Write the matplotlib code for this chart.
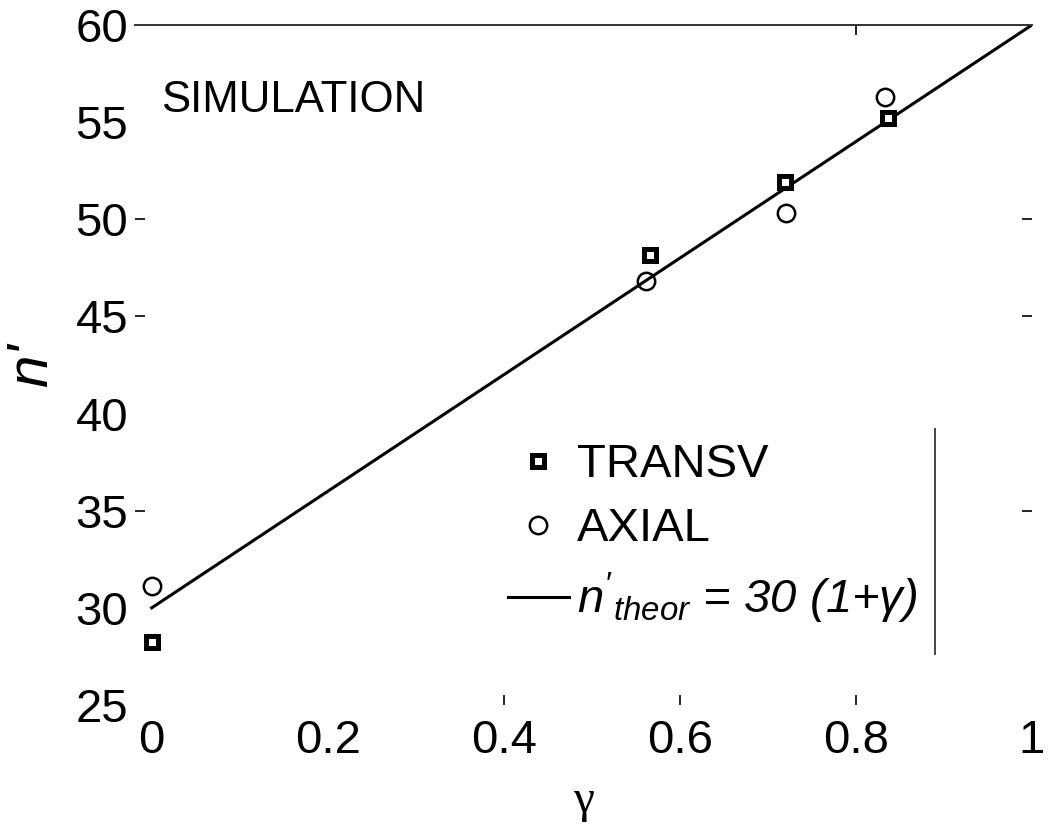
import numpy as np
import matplotlib.pyplot as plt

plt.rcParams['font.family'] = ['Liberation Sans', 'DejaVu Sans']
plt.rcParams['mathtext.fontset'] = 'custom'
plt.rcParams['mathtext.it'] = 'Liberation Sans:italic'
plt.rcParams['mathtext.rm'] = 'Liberation Sans'

# simulated refraction index vs gamma
gam_transv = [0.0, 0.566, 0.719, 0.836]
n_transv = [28.25, 48.15, 51.9, 55.2]
gam_axial = [0.0, 0.561, 0.721, 0.833]
n_axial = [31.1, 46.8, 50.3, 56.3]

# theory n' = 30 (1 + gamma)
gam_th = np.array([0.0, 1.0])
n_th = 30 * (1 + gam_th)

xticks = [0, 0.2, 0.4, 0.6, 0.8, 1]
yticks = [25, 30, 35, 40, 45, 50, 55, 60]

fig = plt.figure(figsize=(10.48, 8.3), dpi=100)
ax = fig.add_axes([0.1288, 0.1506, 0.8559, 0.8193])

ax.plot(gam_th, n_th, color='black', lw=2.2, label=r"$n'_{theor}$ = 30 (1+$\gamma$)", zorder=2)
ax.plot(gam_transv, n_transv, ls='none', marker='s', ms=9, mew=3.6, mec='black', mfc='white',
        label='TRANSV', zorder=3)
ax.plot(gam_axial, n_axial, ls='none', marker='o', ms=12.5, mew=1.8, mec='black', mfc='none',
        label='AXIAL', zorder=3)

ax.set_xlim(-0.019, 1.0)
ax.set_ylim(25, 60)
ax.set_xticks(xticks)
ax.set_xticklabels(['0', '0.2', '0.4', '0.6', '0.8', '1'])
ax.set_yticks(yticks)
ax.tick_params(labelsize=34, direction='in', length=7, width=1.2,
               top=True, right=True, left=True, bottom=True)
ax.tick_params(axis='x', pad=10)
ax.tick_params(axis='y', pad=5)

# only a few tick marks actually drawn
for t, v in zip(ax.xaxis.get_major_ticks(), xticks):
    t.tick1line.set_visible(v in (0.4, 0.6, 0.8))
    t.tick2line.set_visible(v == 0.8)
for t, v in zip(ax.yaxis.get_major_ticks(), yticks):
    t.tick1line.set_visible(v in (35, 45, 50))
    t.tick2line.set_visible(v in (35, 45, 50))

for s in ['left', 'right', 'bottom']:
    ax.spines[s].set_visible(False)
ax.spines['top'].set_linewidth(1.4)
ax.spines['top'].set_color('#333333')

ax.set_xlabel('γ', fontsize=34, family=['Liberation Serif', 'DejaVu Serif'], labelpad=12)
ax.set_ylabel("n'", fontsize=42, style='italic', labelpad=12)

ax.text(0.011, 56.1, 'SIMULATION', fontsize=31.5, va='center', ha='left')

h, l = ax.get_legend_handles_labels()
leg = ax.legend([h[1], h[2], h[0]], [l[1], l[2], l[0]], loc='upper left',
                bbox_to_anchor=(0.416, 0.385), frameon=False, fontsize=34,
                handlelength=1.28, handletextpad=0.17, labelspacing=0.42,
                borderpad=0, borderaxespad=0)
for txt in leg.get_texts()[2:]:
    txt.set_style('italic')

# right edge of the legend box
ax.plot([0.89, 0.89], [39.2, 27.6], color='#444444', lw=1.4)

fig.savefig('out.png', dpi=100)
